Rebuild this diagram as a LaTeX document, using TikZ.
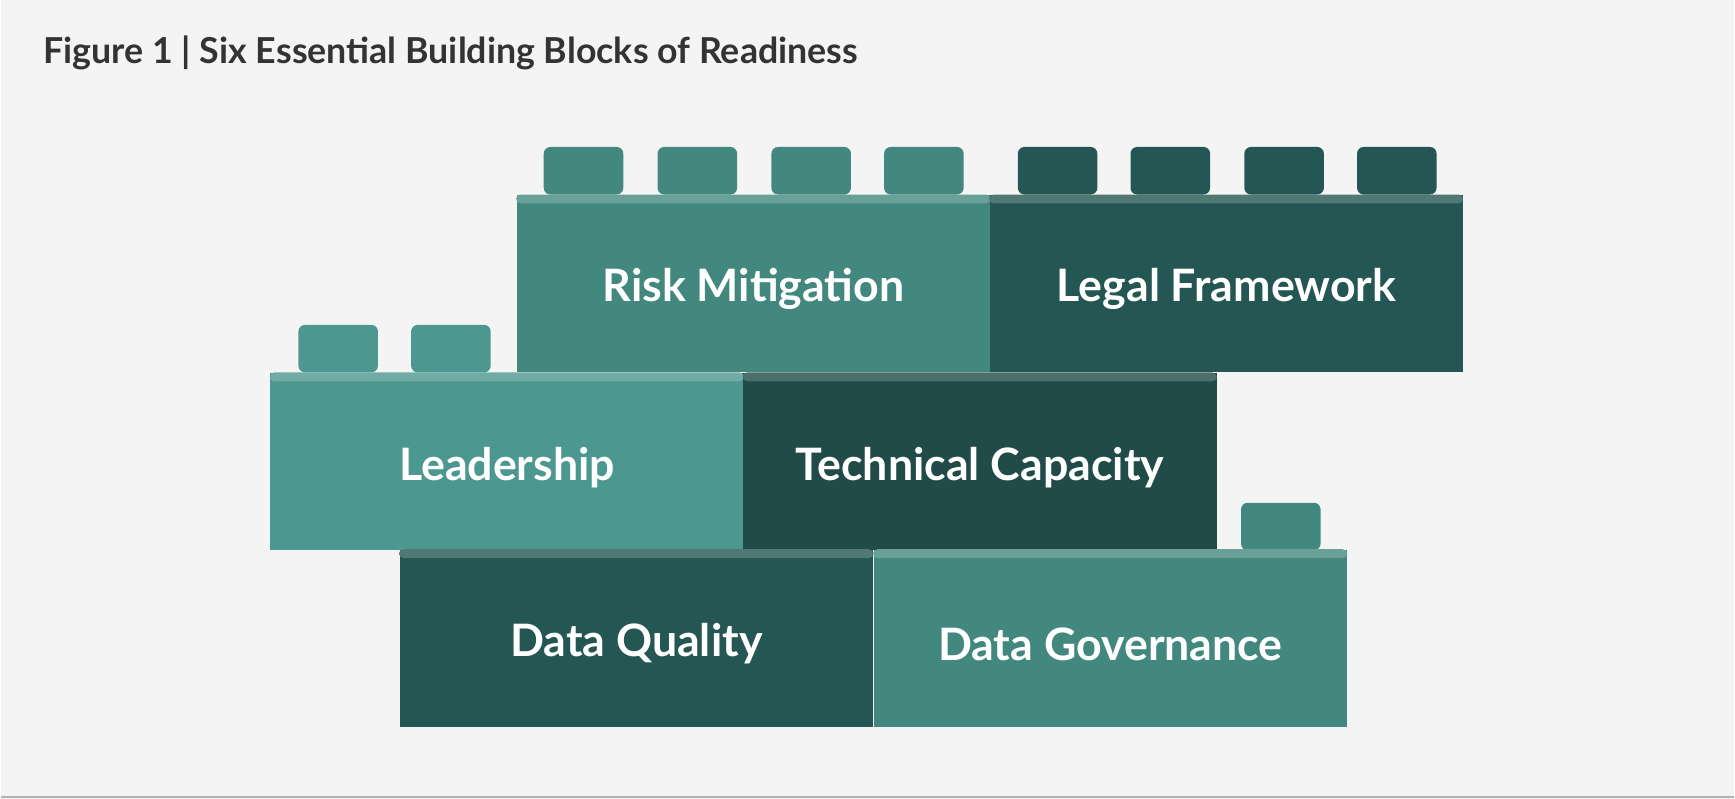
\documentclass[tikz,border=0pt]{standalone}
\usepackage{fontspec}
\setmainfont{Lato}
\definecolor{bg}{HTML}{F4F4F4}
\definecolor{title}{HTML}{333333}
\definecolor{midteal}{HTML}{43887F}
\definecolor{lightteal}{HTML}{4C978F}
\definecolor{darkteal}{HTML}{245753}
\definecolor{deepteal}{HTML}{204B48}
\tikzset{
  brick/.style={fill=#1, draw=none, minimum width=4.28cm, minimum height=1.6cm, inner sep=0pt,
    text=white, font=\fontsize{11.5}{13}\selectfont\bfseries},
  stud/.style={fill=#1, draw=none, rounded corners=0.06cm},
}
\begin{document}
\begin{tikzpicture}[x=0.01cm,y=-0.01cm]

% Hintergrund
\fill[bg] (0,0) rectangle (1568,723);
\draw[gray!60, line width=0.6pt] (0,721) -- (1568,721);
\node[anchor=west, text=title, font=\fontsize{9.2}{11}\selectfont\bfseries] (titel) at (26,48)
  {Figure 1 | Six Essential Building Blocks of Readiness};

% Noppen
\foreach \x/\y/\c in {491/133/midteal, 594/133/midteal, 697/133/midteal, 799/133/midteal,
    920/133/darkteal, 1022/133/darkteal, 1125/133/darkteal, 1227/133/darkteal,
    269/294/lightteal, 371/294/lightteal, 1122/455/midteal} {
  \path[stud=\c] (\x,\y+43) |- (\x+72,\y) -- (\x+72,\y+43) -- cycle;
}

% Steine
\foreach \name/\x/\y/\c/\text in {
    risk/466/176/midteal/Risk Mitigation,
    legal/894/176/darkteal/Legal Framework,
    lead/243/337/lightteal/Leadership,
    tech/671/337/deepteal/Technical Capacity,
    quality/360/497/darkteal/Data Quality,
    gov/789/497/midteal/Data Governance} {
  \node[brick=\c, anchor=north west] (\name) at (\x,\y) {};
  \fill[\c!80!white, rounded corners=0.04cm] (\x,\y+8) |- (\x+429,\y) -- (\x+429,\y+8) -- cycle;
  \node[text=white, font=\fontsize{11.5}{13}\selectfont\bfseries] at ([yshift=-0.05cm]\name.center) {\text};
}

\end{tikzpicture}
\end{document}
